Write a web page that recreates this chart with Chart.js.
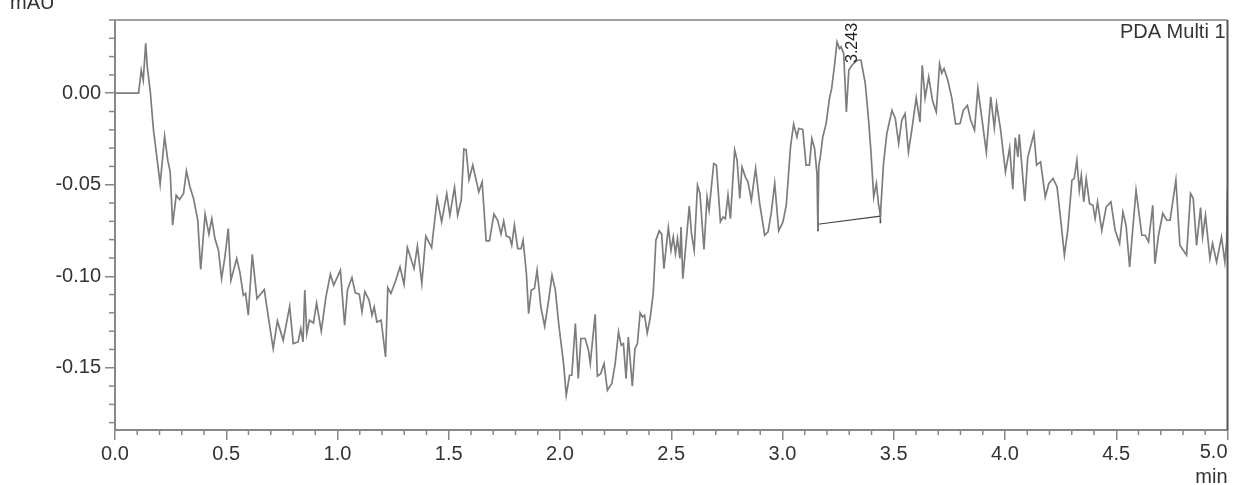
<!DOCTYPE html>
<html>
<head>
<meta charset="utf-8">
<script src="https://cdn.jsdelivr.net/npm/chart.js@4.4.0/dist/chart.umd.min.js"></script>
<style>
  body { margin: 0; background: #fff; }
  #wrap { width: 1236px; height: 485px; position: relative; }
</style>
</head>
<body>
<div id="wrap"><canvas id="chart"></canvas></div>
<script>
// retention time (min) and absorbance (mAU)
const times = [
  0, 0.106, 0.118, 0.127, 0.138, 0.145, 0.158, 0.173, 0.188, 0.203,
  0.223, 0.237, 0.248, 0.259, 0.275, 0.290, 0.308, 0.321, 0.337, 0.353,
  0.372, 0.385, 0.405, 0.422, 0.435, 0.449, 0.465, 0.479, 0.494, 0.509,
  0.521, 0.547, 0.561, 0.577, 0.587, 0.599, 0.617, 0.638, 0.671, 0.689,
  0.711, 0.730, 0.756, 0.785, 0.801, 0.823, 0.835, 0.845, 0.853, 0.862,
  0.874, 0.892, 0.906, 0.927, 0.948, 0.968, 0.983, 1.013, 1.032, 1.045,
  1.065, 1.080, 1.098, 1.110, 1.123, 1.142, 1.155, 1.165, 1.177, 1.196,
  1.216, 1.226, 1.240, 1.262, 1.281, 1.299, 1.314, 1.344, 1.359, 1.379,
  1.397, 1.423, 1.448, 1.468, 1.491, 1.505, 1.526, 1.540, 1.556, 1.568,
  1.578, 1.591, 1.608, 1.635, 1.650, 1.668, 1.683, 1.703, 1.720, 1.735,
  1.747, 1.759, 1.774, 1.783, 1.795, 1.810, 1.825, 1.834, 1.849, 1.859,
  1.871, 1.885, 1.897, 1.914, 1.931, 1.949, 1.964, 1.979, 1.994, 2.016,
  2.028, 2.043, 2.053, 2.069, 2.082, 2.094, 2.113, 2.128, 2.136, 2.158,
  2.168, 2.183, 2.198, 2.213, 2.233, 2.248, 2.263, 2.275, 2.285, 2.297,
  2.307, 2.325, 2.337, 2.348, 2.360, 2.371, 2.380, 2.392, 2.405, 2.419,
  2.431, 2.446, 2.457, 2.467, 2.487, 2.499, 2.509, 2.519, 2.528, 2.539,
  2.544, 2.552, 2.569, 2.581, 2.591, 2.603, 2.618, 2.629, 2.647, 2.661,
  2.670, 2.691, 2.703, 2.721, 2.733, 2.743, 2.755, 2.766, 2.785, 2.796,
  2.808, 2.818, 2.833, 2.845, 2.860, 2.879, 2.897, 2.920, 2.935, 2.949,
  2.965, 2.983, 3.002, 3.017, 3.036, 3.050, 3.065, 3.073, 3.091, 3.106,
  3.121, 3.132, 3.144, 3.155, 3.159, 3.163, 3.170, 3.181, 3.196, 3.211,
  3.221, 3.233, 3.245, 3.256, 3.263, 3.275, 3.287, 3.298, 3.312, 3.335,
  3.353, 3.372, 3.387, 3.397, 3.410, 3.422, 3.432, 3.440, 3.454, 3.469,
  3.492, 3.507, 3.522, 3.536, 3.551, 3.566, 3.581, 3.601, 3.618, 3.628,
  3.641, 3.657, 3.675, 3.691, 3.706, 3.716, 3.726, 3.743, 3.761, 3.778,
  3.798, 3.813, 3.831, 3.846, 3.863, 3.878, 3.893, 3.909, 3.916, 3.936,
  3.952, 3.962, 3.980, 4.002, 4.021, 4.035, 4.046, 4.058, 4.064, 4.089,
  4.102, 4.130, 4.142, 4.160, 4.181, 4.197, 4.216, 4.234, 4.249, 4.267,
  4.282, 4.301, 4.311, 4.323, 4.334, 4.343, 4.354, 4.365, 4.380, 4.395,
  4.405, 4.416, 4.435, 4.455, 4.476, 4.495, 4.515, 4.530, 4.544, 4.560,
  4.589, 4.615, 4.630, 4.645, 4.664, 4.674, 4.690, 4.709, 4.727, 4.742,
  4.768, 4.786, 4.816, 4.834, 4.846, 4.861, 4.879, 4.888, 4.901, 4.921,
  4.933, 4.951, 4.973, 4.988, 4.996, 5.0
]
const signal = [
  0, 0, 0.0126, 0.0071, 0.0272, 0.0144, 0.0016, -0.0202, -0.0348, -0.0497,
  -0.0235, -0.0366, -0.0430, -0.0721, -0.0557, -0.0581, -0.0548, -0.0425, -0.0512, -0.0575,
  -0.0694, -0.0963, -0.0661, -0.0770, -0.0685, -0.0794, -0.0858, -0.1013, -0.0894, -0.0739,
  -0.1022, -0.0903, -0.0976, -0.1104, -0.1094, -0.1213, -0.0880, -0.1122, -0.1073, -0.1222,
  -0.1395, -0.1244, -0.1350, -0.1164, -0.1368, -0.1359, -0.1286, -0.1359, -0.1076, -0.1313,
  -0.1240, -0.1255, -0.1146, -0.1299, -0.1113, -0.0989, -0.1049, -0.0967, -0.1268, -0.1073,
  -0.1007, -0.1091, -0.1098, -0.1195, -0.1084, -0.1131, -0.1213, -0.1168, -0.1250, -0.1240,
  -0.1441, -0.1062, -0.1094, -0.1022, -0.0949, -0.1044, -0.0843, -0.0958, -0.0836, -0.1040,
  -0.0781, -0.0843, -0.0575, -0.0703, -0.0548, -0.0667, -0.0515, -0.0667, -0.0585, -0.0305,
  -0.0308, -0.0472, -0.0393, -0.0539, -0.0485, -0.0807, -0.0807, -0.0661, -0.0694, -0.0770,
  -0.0698, -0.0781, -0.0788, -0.0831, -0.0721, -0.0849, -0.0849, -0.0803, -0.0985, -0.1204,
  -0.1076, -0.1067, -0.0967, -0.1168, -0.1273, -0.1131, -0.0994, -0.1076, -0.1258, -0.1477,
  -0.1650, -0.1541, -0.1541, -0.1258, -0.1559, -0.1340, -0.1340, -0.1404, -0.1477, -0.1208,
  -0.1546, -0.1532, -0.1477, -0.1623, -0.1586, -0.1477, -0.1304, -0.1377, -0.1368, -0.1559,
  -0.1332, -0.1601, -0.1395, -0.1368, -0.1200, -0.1222, -0.1213, -0.1310, -0.1231, -0.1094,
  -0.0803, -0.0752, -0.0770, -0.0958, -0.0734, -0.0858, -0.0785, -0.0876, -0.0794, -0.0903,
  -0.0731, -0.1013, -0.0785, -0.0617, -0.0767, -0.0858, -0.0503, -0.0548, -0.0854, -0.0567,
  -0.0639, -0.0384, -0.0393, -0.0703, -0.0676, -0.0685, -0.0557, -0.0685, -0.0311, -0.0366,
  -0.0575, -0.0403, -0.0457, -0.0485, -0.0585, -0.0411, -0.0599, -0.0776, -0.0758, -0.0657,
  -0.0493, -0.0752, -0.0703, -0.0612, -0.0293, -0.0169, -0.0239, -0.0193, -0.0198, -0.0393,
  -0.0393, -0.0248, -0.0302, -0.0439, -0.0745, -0.0400, -0.0348, -0.0239, -0.0166, -0.0029,
  0.0026, 0.0144, 0.0280, 0.0244, 0.0253, 0.0217, -0.0102, 0.0126, 0.0153, 0.0180,
  0.0180, 0.0053, -0.0148, -0.0311, -0.0567, -0.0493, -0.0612, -0.0667, -0.0384, -0.0220,
  -0.0093, -0.0138, -0.0275, -0.0148, -0.0111, -0.0322, -0.0202, -0.0025, -0.0158, 0.0153,
  -0.0027, 0.0089, -0.0044, -0.0102, 0.0160, 0.0109, 0.0135, 0.0071, -0.0027, -0.0169,
  -0.0166, -0.0093, -0.0066, -0.0148, -0.0202, 0.0026, -0.0109, -0.0257, -0.0322, -0.0020,
  -0.0189, -0.0058, -0.0197, -0.0430, -0.0298, -0.0525, -0.0243, -0.0348, -0.0224, -0.0590,
  -0.0352, -0.0220, -0.0393, -0.0375, -0.0567, -0.0493, -0.0466, -0.0512, -0.0676, -0.0885,
  -0.0749, -0.0475, -0.0466, -0.0366, -0.0530, -0.0448, -0.0594, -0.0466, -0.0603, -0.0612,
  -0.0685, -0.0594, -0.0749, -0.0621, -0.0594, -0.0749, -0.0821, -0.0649, -0.0721, -0.0949,
  -0.0530, -0.0776, -0.0776, -0.0812, -0.0612, -0.0931, -0.0776, -0.0657, -0.0694, -0.0694,
  -0.0475, -0.0831, -0.0885, -0.0548, -0.0575, -0.0831, -0.0625, -0.0785, -0.0667, -0.0903,
  -0.0821, -0.0922, -0.0785, -0.0922, -0.0812, -0.0530
]

// integration baseline of the peak
const baseTimes = [3.159, 3.440]
const baseValues = [-0.0716, -0.0672]
const peakTime = 3.243
const peakName = '3.243'
const traceName = 'PDA Multi 1'

const yMin = -0.184
const yMax = 0.04

const FONT = 'Liberation Sans, Arial, sans-serif'

const trace = times.map((t, i) => ({ x: t, y: signal[i] }))
const baseline = baseTimes.map((t, i) => ({ x: t, y: baseValues[i] }))

// box, minor ticks and the loose labels
const frame = {
  id: 'frame',
  afterDraw(chart) {
    const ctx = chart.ctx
    const { left, right, top, bottom } = chart.chartArea
    const xs = chart.scales.x
    const ys = chart.scales.y
    ctx.save()

    ctx.lineWidth = 2
    ctx.strokeStyle = '#a0a0a0'
    ctx.beginPath()
    ctx.moveTo(left, top)
    ctx.lineTo(right, top)
    ctx.stroke()
    ctx.strokeStyle = '#555'
    ctx.beginPath()
    ctx.moveTo(right, top)
    ctx.lineTo(right, bottom)
    ctx.stroke()

    ctx.lineWidth = 1.5
    ctx.strokeStyle = '#888'
    for (let k = -18; k <= 4; k++) {
      if (k % 5 === 0) continue
      const y = ys.getPixelForValue(k / 100)
      ctx.beginPath()
      ctx.moveTo(left - 6, y)
      ctx.lineTo(left, y)
      ctx.stroke()
    }
    for (let k = 1; k < 50; k++) {
      if (k % 5 === 0) continue
      const x = xs.getPixelForValue(k / 10)
      ctx.beginPath()
      ctx.moveTo(x, bottom)
      ctx.lineTo(x, bottom + 5)
      ctx.stroke()
    }

    ctx.fillStyle = '#333'
    ctx.font = '20px ' + FONT
    ctx.textAlign = 'right'
    ctx.textBaseline = 'top'
    ctx.fillText('5.0', right, bottom + 12)
    ctx.textBaseline = 'alphabetic'
    ctx.fillText('min', right, 483)
    ctx.fillText(traceName, right - 2, 38)
    ctx.textAlign = 'left'
    ctx.fillText('mAU', 10, 9)

    // peak label, rotated
    ctx.font = '16px ' + FONT
    ctx.fillStyle = '#222'
    ctx.translate(xs.getPixelForValue(peakTime) + 16, 63)
    ctx.rotate(-Math.PI / 2)
    ctx.textBaseline = 'middle'
    ctx.fillText(peakName, 0, 0)
    ctx.restore()
  }
}

const ctx = document.getElementById('chart').getContext('2d')
new Chart(ctx, {
  type: 'line',
  data: {
    datasets: [
      {
        data: trace,
        borderColor: '#7d7d7d',
        borderWidth: 1.7,
        pointRadius: 0,
        tension: 0
      },
      {
        data: baseline,
        borderColor: '#444',
        borderWidth: 1.2,
        pointStyle: 'line',
        rotation: 90,
        pointRadius: 7,
        pointBorderWidth: 1.5,
        pointBorderColor: '#333'
      }
    ]
  },
  options: {
    responsive: true,
    maintainAspectRatio: false,
    animation: false,
    layout: { padding: { top: 20, right: 5, left: 0, bottom: 0 } },
    plugins: {
      legend: { display: false },
      tooltip: { enabled: false }
    },
    scales: {
      x: {
        type: 'linear',
        min: 0,
        max: 5,
        afterFit(scale) { scale.height = 55 },
        border: { color: '#888', width: 2 },
        grid: { drawOnChartArea: false, tickLength: 10, color: '#888', lineWidth: 1.5 },
        ticks: {
          stepSize: 0.5,
          includeBounds: false,
          maxRotation: 0,
          autoSkip: false,
          padding: 2,
          color: '#333',
          font: { family: FONT, size: 20 },
          callback: v => (Math.abs(v - 5) < 1e-9 ? '' : v.toFixed(1))
        }
      },
      y: {
        min: yMin,
        max: yMax,
        afterFit(scale) { scale.width = 115 },
        border: { color: '#888', width: 2 },
        grid: { drawOnChartArea: false, tickLength: 10, color: '#888', lineWidth: 1.5 },
        ticks: {
          stepSize: 0.05,
          includeBounds: false,
          padding: 4,
          color: '#333',
          font: { family: FONT, size: 20 },
          callback: v => (Math.abs(v) < 1e-9 ? '0.00' : v.toFixed(2))
        }
      }
    }
  },
  plugins: [frame]
})
</script>
</body>
</html>
